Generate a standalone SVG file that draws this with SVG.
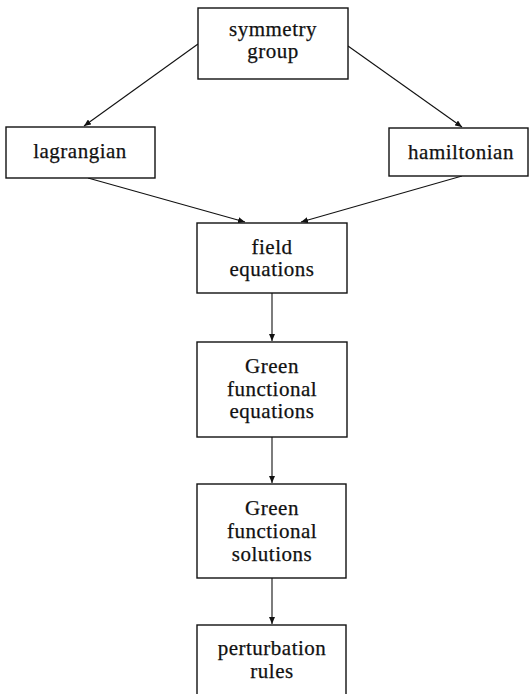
<svg xmlns="http://www.w3.org/2000/svg" width="530" height="694" viewBox="0 0 530 694">
<defs>
<marker id="ah" markerWidth="8" markerHeight="6" refX="7" refY="3" orient="auto" markerUnits="userSpaceOnUse">
<path d="M0,0 L7,3 L0,6 Z" fill="#111"/>
</marker>
<style>
.box{fill:#fff;stroke:#111;stroke-width:1.4}
.lbl{font-family:"Liberation Serif","Times New Roman",serif;font-size:21px;letter-spacing:0.5px;fill:#111;text-anchor:middle;stroke:#111;stroke-width:0.25}
.conn{stroke:#111;stroke-width:1.1;fill:none;marker-end:url(#ah)}
</style>
</defs>
<rect width="530" height="694" fill="#fff"/>
<g id="connectors">
<line class="conn" x1="198" y1="44" x2="84" y2="126"/>
<line class="conn" x1="348" y1="46" x2="462" y2="127"/>
<line class="conn" x1="88" y1="178" x2="245" y2="222"/>
<line class="conn" x1="462" y1="176" x2="301" y2="222"/>
<line class="conn" x1="272" y1="293" x2="272" y2="341"/>
<line class="conn" x1="272" y1="437" x2="272" y2="483"/>
<line class="conn" x1="272" y1="578" x2="272" y2="624"/>
</g>
<g id="symmetry-group">
<rect class="box" x="198" y="8" width="150" height="71"/>
<text class="lbl" x="273" y="36">symmetry</text>
<text class="lbl" x="273" y="58">group</text>
</g>
<g id="lagrangian">
<rect class="box" x="6" y="127" width="149" height="51"/>
<text class="lbl" x="80" y="158">lagrangian</text>
</g>
<g id="hamiltonian">
<rect class="box" x="389" y="128" width="139" height="48"/>
<text class="lbl" x="461" y="159">hamiltonian</text>
</g>
<g id="field-equations">
<rect class="box" x="197" y="223" width="150" height="70"/>
<text class="lbl" x="272" y="254">field</text>
<text class="lbl" x="272" y="276">equations</text>
</g>
<g id="green-functional-equations">
<rect class="box" x="197" y="342" width="150" height="95"/>
<text class="lbl" x="272" y="373">Green</text>
<text class="lbl" x="272" y="396">functional</text>
<text class="lbl" x="272" y="418">equations</text>
</g>
<g id="green-functional-solutions">
<rect class="box" x="197" y="484" width="149" height="94"/>
<text class="lbl" x="272" y="515">Green</text>
<text class="lbl" x="272" y="538">functional</text>
<text class="lbl" x="272" y="561">solutions</text>
</g>
<g id="perturbation-rules">
<rect class="box" x="197" y="625" width="149" height="80"/>
<text class="lbl" x="272" y="655">perturbation</text>
<text class="lbl" x="272" y="678">rules</text>
</g>
</svg>
